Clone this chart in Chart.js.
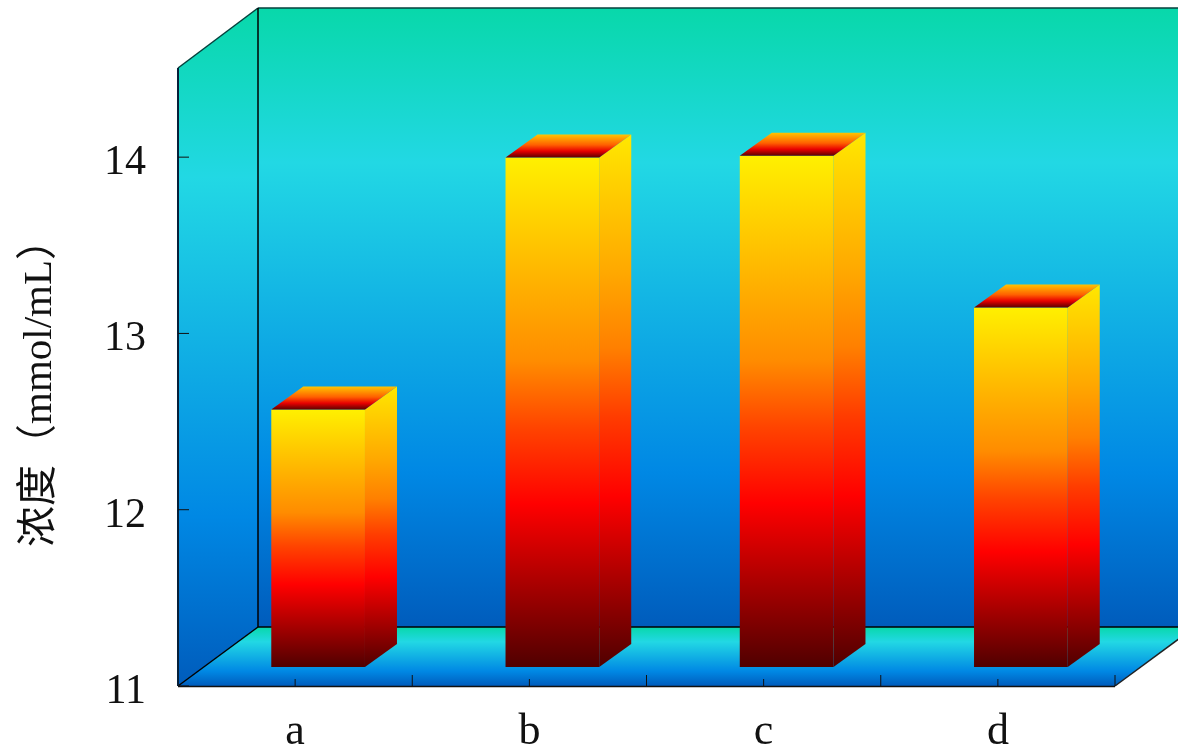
<!DOCTYPE html>
<html>
<head>
<meta charset="utf-8">
<title>浓度</title>
<style>
  html, body { margin: 0; padding: 0; background: #fff; }
  canvas { display: block; }
</style>
<script src="https://cdn.jsdelivr.net/npm/chart.js@4/dist/chart.umd.min.js"></script>
</head>
<body>
<canvas id="barChart" width="1178" height="747"></canvas>
<script>
// data
const categories = ["a", "b", "c", "d"];
const concentration = [12.46, 13.89, 13.9, 13.04];
const yTicks = [11, 12, 13, 14];
const yAxisTitle = "浓度（mmol/mL）";

const yMin = 11;
const yMax = 14.5;
const font = "'Liberation Serif', 'Noto Sans CJK SC', serif";

// the box: how far the back wall sits from the front
const wallDx = 80;
const wallDy = 59;
// bars stand a bit inside the floor, and have their own depth
const barShiftX = 23;
const barShiftY = -19;
const barDx = 32;
const barDy = 23;

function colorRamp(ctx, y0, y1, stops) {
  const g = ctx.createLinearGradient(0, y0, 0, y1);
  stops.forEach((s) => g.addColorStop(s[0], s[1]));
  return g;
}

const wallStops = [[0, "#08d8aa"], [0.25, "#22d8e4"], [0.75, "#0088e4"], [1, "#005cbc"]];
const frontStops = [[0, "#fff000"], [0.26, "#ffae00"], [0.4, "#ff8c00"], [0.53, "#ff4400"], [0.68, "#ff0000"], [1, "#500000"]];
const sideStops = [[0, "#ffe800"], [0.06, "#ffd800"], [0.26, "#ffa800"], [0.4, "#ff8000"], [0.53, "#ff3c00"], [0.68, "#ff0000"], [1, "#500000"]];
const topStops = [[0, "#ffc400"], [0.45, "#ff6000"], [0.72, "#e80000"], [1, "#5c0000"]];

function fillPoly(ctx, pts, fill) {
  ctx.beginPath();
  pts.forEach((p, i) => (i ? ctx.lineTo(p[0], p[1]) : ctx.moveTo(p[0], p[1])));
  ctx.closePath();
  ctx.fillStyle = fill;
  ctx.fill();
}

function line(ctx, x0, y0, x1, y1, color, width) {
  ctx.beginPath();
  ctx.moveTo(x0, y0);
  ctx.lineTo(x1, y1);
  ctx.strokeStyle = color;
  ctx.lineWidth = width;
  ctx.stroke();
}

// walls, floor, tick marks and the axis title
const boxPlugin = {
  id: "box",
  beforeDatasetsDraw(chart) {
    const ctx = chart.ctx;
    const { left, right, top, bottom } = chart.chartArea;
    const wallTop = top - 1;
    const backTop = wallTop - wallDy - 1;
    const backBottom = bottom - wallDy;
    const backLeft = left + wallDx;

    ctx.save();
    // back wall
    fillPoly(ctx, [[backLeft, backTop], [right + wallDx, backTop], [right + wallDx, backBottom], [backLeft, backBottom]],
      colorRamp(ctx, backTop, backBottom, wallStops));
    // left wall
    fillPoly(ctx, [[left, wallTop], [backLeft, backTop], [backLeft, backBottom], [left, bottom]],
      colorRamp(ctx, backTop, bottom, wallStops));
    // floor
    fillPoly(ctx, [[left, bottom], [backLeft, backBottom], [right + wallDx, backBottom], [right, bottom]],
      colorRamp(ctx, backBottom, bottom, wallStops));

    line(ctx, backLeft, backTop, right + wallDx, backTop, "#04403c", 1.5);
    line(ctx, left, wallTop, backLeft, backTop, "#04403c", 1.5);
    line(ctx, backLeft, backTop, backLeft, backBottom, "#000", 1.5);
    line(ctx, backLeft, backBottom, right + wallDx, backBottom, "#000", 1.5);
    line(ctx, left, bottom, backLeft, backBottom, "#000", 1.5);
    line(ctx, right, bottom, right + wallDx, backBottom, "#222", 1.5);
    line(ctx, left, wallTop, left, bottom, "#06203a", 2);
    line(ctx, left, bottom + 0.5, right, bottom + 0.5, "#111", 1.5);

    // y tick marks point into the box
    yTicks.forEach((v) => {
      const y = chart.scales.y.getPixelForValue(v);
      line(ctx, left, y, left + 11, y, "#111", 1);
    });
    // x ticks: short at the category, longer between categories
    const xScale = chart.scales.x;
    categories.forEach((c, i) => {
      const x = xScale.getPixelForValue(i);
      line(ctx, x, bottom, x, bottom - 7, "#111", 1);
      const edge = left + ((i + 1) * (right - left)) / categories.length;
      line(ctx, edge, bottom, edge, bottom - 11, "#111", 1);
    });

    // title sits lower than the middle of the axis, so it is placed by hand
    ctx.translate(40, 383);
    ctx.rotate(-Math.PI / 2);
    ctx.font = "41px " + font;
    ctx.fillStyle = "#111";
    ctx.textAlign = "center";
    ctx.textBaseline = "middle";
    ctx.fillText(yAxisTitle, 0, 0);
    ctx.restore();

    // everything the bars draw is pushed back into the box
    ctx.save();
    ctx.translate(barShiftX, barShiftY);
  },
  afterDatasetsDraw(chart) {
    const ctx = chart.ctx;
    chart.getDatasetMeta(0).data.forEach((bar) => {
      const { x, y, base, width } = bar.getProps(["x", "y", "base", "width"], true);
      const l = x - width / 2;
      const r = x + width / 2;
      // side face
      fillPoly(ctx, [[r, y], [r + barDx, y - barDy], [r + barDx, base - barDy], [r, base]],
        colorRamp(ctx, y - barDy, base, sideStops));
      // top face
      fillPoly(ctx, [[l, y], [l + barDx, y - barDy], [r + barDx, y - barDy], [r, y]],
        colorRamp(ctx, y - barDy, y, topStops));
    });
    ctx.restore();
  }
};

new Chart(document.getElementById("barChart"), {
  type: "bar",
  data: {
    labels: categories,
    datasets: [{
      label: "浓度",
      data: concentration,
      barPercentage: 0.4,
      categoryPercentage: 1,
      base: yMin,
      clip: false,
      backgroundColor(context) {
        const { chart } = context;
        if (!chart.chartArea || context.raw === undefined) return "#ff8000";
        const y = chart.scales.y;
        return colorRamp(chart.ctx, y.getPixelForValue(context.raw), y.getPixelForValue(yMin), frontStops);
      }
    }]
  },
  plugins: [boxPlugin],
  options: {
    responsive: false,
    animation: false,
    layout: { padding: { top: 69, right: 63, left: 0, bottom: 0 } },
    plugins: { legend: { display: false }, tooltip: { enabled: false } },
    scales: {
      x: {
        grid: { display: false, drawTicks: false },
        border: { display: false },
        ticks: { color: "#111", padding: 20, font: { family: font, size: 44 } },
        afterFit(scale) { scale.height = 61; }
      },
      y: {
        min: yMin,
        max: yMax,
        grid: { display: false, drawTicks: false },
        border: { display: false },
        afterBuildTicks(scale) { scale.ticks = yTicks.map((v) => ({ value: v })); },
        ticks: { color: "#111", padding: 32, labelOffset: 6, font: { family: font, size: 42 } },
        afterFit(scale) { scale.width = 178; }
      }
    }
  }
});
</script>
</body>
</html>
